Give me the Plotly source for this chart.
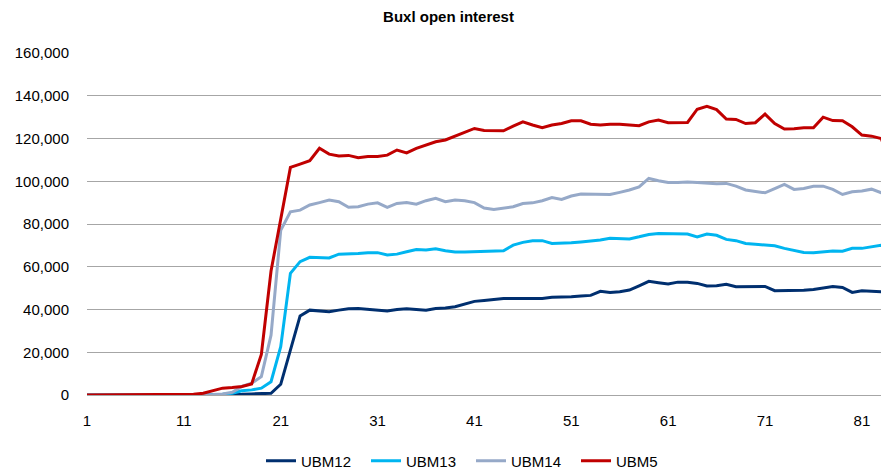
import plotly.graph_objects as go

series_names = ["UBM12", "UBM13", "UBM14", "UBM5"]
series_colors = ["#002F6F", "#00B5F0", "#96A9C8", "#C00000"]

ubm12 = [0]*16 + [300, 500, 600, 800, 5000, 21000, 37000, 39700, 39400, 39000,
        39700, 40400, 40500, 40000, 39700, 39300, 40000, 40400, 40000, 39700,
        40500, 40700, 41300, 42600, 43800, 44200, 44700, 45200, 45200, 45200,
        45200, 45200, 45700, 45700, 46000, 46300, 46600, 48500, 47900, 48300,
        49100, 51100, 53200, 52500, 51900, 52800, 52800, 52200, 51000, 51100,
        51800, 50700, 50700, 50500, 50800, 48800, 48800, 48800, 49000, 49400,
        50100, 50700, 50300, 48000, 48800, 48600, 48300, 46000]

ubm13 = [0]*14 + [300, 800, 2000, 2400, 3200, 6200, 22600, 56900, 62400, 64400,
        64100, 64100, 65900, 65900, 66200, 66600, 66600, 65500, 65900, 67000,
        68100, 67800, 68400, 67500, 66900, 66900, 67000, 67200, 67200, 67500,
        70100, 71400, 72200, 72200, 70900, 70900, 71200, 71600, 71900, 72500,
        73300, 73300, 73000, 74000, 75100, 75600, 75600, 75300, 75300, 74000,
        75300, 74700, 72800, 72200, 70900, 70500, 70300, 69800, 68600, 67800,
        66700, 66600, 67000, 67400, 67300, 68600, 68600, 69400, 70100, 64000]

ubm14 = [0]*13 + [200, 500, 1300, 4000, 5500, 8600, 28000, 77000, 85700, 86500,
        88900, 90000, 91200, 90400, 87800, 88100, 89300, 89900, 87800, 89600,
        90100, 89300, 90900, 92000, 90400, 91200, 90900, 90000, 87500, 86800,
        87300, 88100, 89600, 89900, 90900, 92400, 91500, 93100, 94000, 94000,
        93800, 93800, 94800, 95900, 97400, 101300, 100200, 99400, 99400, 99600,
        99400, 99100, 98800, 99000, 97700, 95900, 95200, 94600, 96600, 98500,
        96200, 96600, 97700, 97700, 96200, 93800, 95100, 95400, 96300, 94600,
        93500]

ubm5 = [0]*10 + [100, 300, 800, 2000, 3200, 3500, 4000, 5200, 19000, 58000,
        83000, 106500, 108000, 109600, 115400, 112700, 111800, 112100, 111000, 111600,
        111600, 112200, 114600, 113300, 115400, 116900, 118500, 119300, 121100, 122800,
        124700, 123800, 123600, 123600, 125800, 127800, 126300, 125000, 126300, 127000,
        128300, 128300, 126700, 126300, 126700, 126700, 126300, 126000, 127800, 128600,
        127400, 127500, 127500, 133700, 135100, 133500, 129100, 128900, 127000, 127400,
        131400, 127000, 124400, 124600, 125000, 125000, 130000, 128400, 128300, 125500,
        121600, 121100, 120000, 107500]

series_values = [ubm12, ubm13, ubm14, ubm5]

x_tick_vals = [1, 11, 21, 31, 41, 51, 61, 71, 81]
y_tick_vals = [0, 20000, 40000, 60000, 80000, 100000, 120000, 140000, 160000]
y_tick_text = ["0", "20,000", "40,000", "60,000", "80,000", "100,000", "120,000", "140,000", "160,000"]

FONT = "Liberation Sans, Arial, sans-serif"

# page body has an 8px default margin, so the figure is 8px smaller
W, H = 881, 464
PL, PR, PT, PB = 79, 881, 45, 387  # plot area in figure pixels

fig = go.Figure()
for name, color, vals in zip(series_names, series_colors, series_values):
    fig.add_trace(go.Scatter(
        x=list(range(1, len(vals) + 1)), y=vals, name=name, mode="lines",
        line=dict(color=color, width=3), cliponaxis=True,
    ))

fig.update_layout(
    width=W, height=H,
    margin=dict(l=PL, r=W - PR, t=PT, b=H - PB, autoexpand=False),
    paper_bgcolor="white", plot_bgcolor="white",
    font=dict(family=FONT, size=15, color="#000000"),
    title=dict(text="<b>Buxl open interest</b>", x=0.5, xanchor="center",
               y=1 - 9 / H, yanchor="middle",
               font=dict(family=FONT, size=15, color="#000000")),
    showlegend=True,
    legend=dict(orientation="h", x=(253 - PL) / (PR - PL), xanchor="left",
                y=-(453 - PB) / (PB - PT), yanchor="middle",
                font=dict(family=FONT, size=15),
                entrywidth=60, entrywidthmode="pixels",
                itemwidth=30, tracegroupgap=0),
)
fig.update_xaxes(
    range=[1, 83.8], tickvals=x_tick_vals, ticktext=[str(v) for v in x_tick_vals],
    showgrid=False, zeroline=False, showline=True, linecolor="#A6A6A6", linewidth=1,
    ticks="", ticklabelstandoff=12, tickfont=dict(family=FONT, size=15),
    automargin=False,
)
fig.update_yaxes(
    range=[0, 160000], tickvals=y_tick_vals, ticktext=y_tick_text,
    showgrid=True, gridcolor="#A6A6A6", gridwidth=1, zeroline=False,
    showline=False, ticks="", ticklabelstandoff=17,
    tickfont=dict(family=FONT, size=15), automargin=False,
)

fig.write_html("out.html")
